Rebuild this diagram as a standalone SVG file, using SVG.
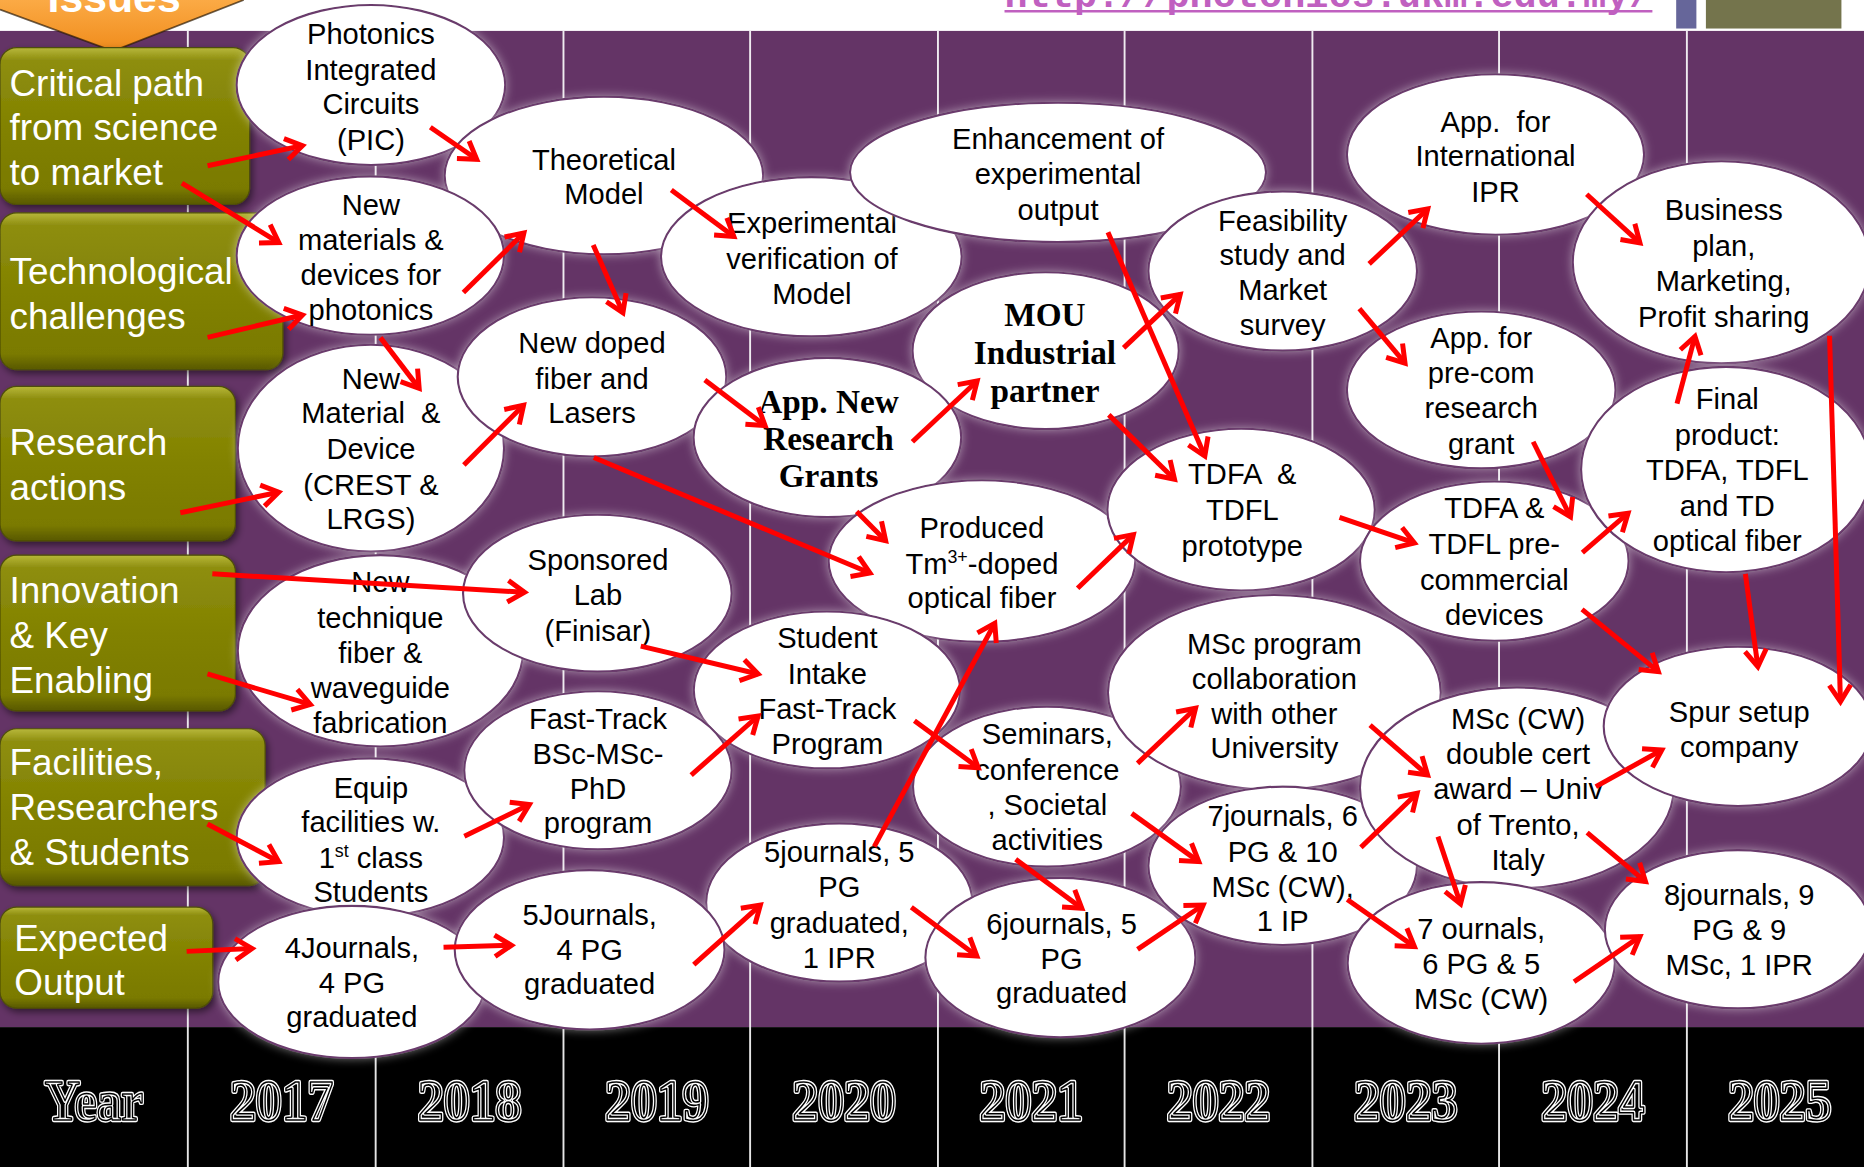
<svg xmlns="http://www.w3.org/2000/svg" width="1864" height="1167" viewBox="0 0 1864 1167">
<defs>
<style>
.nd{fill:#fff;stroke:#6a3a6c;stroke-width:1.8;filter:url(#glow)}
.t{font-family:"Liberation Sans",Arial,sans-serif;font-size:24.5px;fill:#000;text-anchor:middle}
.s{font-family:"Liberation Serif","Times New Roman",serif;font-weight:bold;font-size:28px;fill:#000;text-anchor:middle}
.lb{font-family:"Liberation Sans",Arial,sans-serif;font-size:31px;fill:#fff}
.box{fill:url(#olv);stroke:#4e4e08;stroke-width:1;filter:url(#shd)}
.col{stroke:#fff;stroke-width:1.6;opacity:0.9}
.ar{fill:none;stroke:#ff0000;stroke-width:4.2;marker-end:url(#ah)}
.y1{font-family:"Liberation Serif","Times New Roman",serif;font-weight:bold;font-size:48px;fill:#000;stroke:#fff;stroke-width:3.6;stroke-linejoin:round;text-anchor:middle}
.y2{font-family:"Liberation Serif","Times New Roman",serif;font-weight:bold;font-size:48px;fill:none;stroke:#000;stroke-width:1.3;stroke-linejoin:round;text-anchor:middle}
</style>
<linearGradient id="olv" x1="0" y1="0" x2="0" y2="1">
<stop offset="0" stop-color="#b8b83a"/>
<stop offset="0.08" stop-color="#8e8e10"/>
<stop offset="0.5" stop-color="#828200"/>
<stop offset="0.9" stop-color="#7a7a00"/>
<stop offset="1" stop-color="#585800"/>
</linearGradient>
<linearGradient id="org" x1="0" y1="0" x2="0" y2="1">
<stop offset="0" stop-color="#fbaa45"/>
<stop offset="1" stop-color="#f08c1c"/>
</linearGradient>
<filter id="glow" x="-15%" y="-15%" width="130%" height="130%">
<feGaussianBlur in="SourceAlpha" stdDeviation="4" result="b"/>
<feFlood flood-color="#ffffff" flood-opacity="0.45"/>
<feComposite in2="b" operator="in" result="g"/>
<feMerge><feMergeNode in="g"/><feMergeNode in="SourceGraphic"/></feMerge>
</filter>
<filter id="shd" x="-10%" y="-10%" width="125%" height="130%">
<feDropShadow dx="2" dy="3" stdDeviation="3" flood-color="#000" flood-opacity="0.5"/>
</filter>
<marker id="ah" markerUnits="userSpaceOnUse" viewBox="-16 -11 18 22" refX="0" refY="0" markerWidth="18" markerHeight="22" orient="auto" overflow="visible">
<path d="M-14,-9 L0,0 L-14,9" fill="none" stroke="#ff0000" stroke-width="4.2"/>
</marker>
</defs>
<g transform="scale(1.18878)">
<g id="background">
<rect x="0" y="0" width="1570" height="985" fill="#fff"/>
<rect x="0" y="26" width="1570" height="838" fill="#643466"/>
<rect x="0" y="864" width="1570" height="121" fill="#000"/>
<g>
<line class="col" x1="158" y1="26" x2="158" y2="985"/>
<line class="col" x1="316" y1="26" x2="316" y2="985"/>
<line class="col" x1="474" y1="26" x2="474" y2="985"/>
<line class="col" x1="631" y1="26" x2="631" y2="985"/>
<line class="col" x1="789" y1="26" x2="789" y2="985"/>
<line class="col" x1="946" y1="26" x2="946" y2="985"/>
<line class="col" x1="1104" y1="26" x2="1104" y2="985"/>
<line class="col" x1="1261" y1="26" x2="1261" y2="985"/>
<line class="col" x1="1419" y1="26" x2="1419" y2="985"/>
</g>
<g id="header">
<polygon points="0,0 205,0 95,43 0,8" fill="url(#org)"/>
<polyline points="0,8 95,43 205,0" fill="none" stroke="#2b1a05" stroke-width="1.5" opacity="0.7"/>
<text x="96" y="10" font-family="'Liberation Sans',Arial,sans-serif" font-weight="bold" font-size="36" fill="#fff" text-anchor="middle">Issues</text>
<text x="845" y="6" font-family="'Liberation Mono','Courier New',monospace" font-weight="bold" font-size="32" fill="#c060c0" textLength="545" lengthAdjust="spacingAndGlyphs">http://photonics.ukm.edu.my/</text>
<line x1="845" y1="9.5" x2="1390" y2="9.5" stroke="#c060c0" stroke-width="2"/>
<rect x="1410" y="0" width="17" height="24" fill="#66669a"/>
<rect x="1435" y="0" width="114" height="24" fill="#74744c"/>
</g>
</g>
<g id="row-labels">
<g id="lbl-critical"><rect class="box" x="0" y="40" width="210" height="132" rx="14"/>
<text class="lb"><tspan x="8" y="81">Critical path</tspan><tspan x="8" y="118">from science</tspan><tspan x="8" y="156">to market</tspan></text></g>
<g id="lbl-tech"><rect class="box" x="0" y="179" width="238" height="132" rx="14"/>
<text class="lb"><tspan x="8" y="239">Technological</tspan><tspan x="8" y="277">challenges</tspan></text></g>
<g id="lbl-research"><rect class="box" x="0" y="325" width="198" height="130" rx="14"/>
<text class="lb"><tspan x="8" y="383">Research</tspan><tspan x="8" y="421">actions</tspan></text></g>
<g id="lbl-innovation"><rect class="box" x="0" y="467" width="198" height="131" rx="14"/>
<text class="lb"><tspan x="8" y="507">Innovation</tspan><tspan x="8" y="545">&amp; Key</tspan><tspan x="8" y="583">Enabling</tspan></text></g>
<g id="lbl-facilities"><rect class="box" x="0" y="613" width="223" height="132" rx="14"/>
<text class="lb"><tspan x="8" y="652">Facilities,</tspan><tspan x="8" y="690">Researchers</tspan><tspan x="8" y="728">&amp; Students</tspan></text></g>
<g id="lbl-expected"><rect class="box" x="0" y="763" width="179" height="85" rx="14"/>
<text class="lb"><tspan x="12" y="800">Expected</tspan><tspan x="12" y="837">Output</tspan></text></g>
</g>
<g id="nodes">
<g id="n-pic"><ellipse class="nd" cx="312" cy="71.5" rx="113" ry="67.3"/>
<text class="t"><tspan x="312" y="37">Photonics</tspan><tspan x="312" y="67">Integrated</tspan><tspan x="312" y="96">Circuits</tspan><tspan x="312" y="126">(PIC)</tspan></text></g>
<g id="n-theory"><ellipse class="nd" cx="508" cy="147.6" rx="134" ry="66.3"/>
<text class="t"><tspan x="508" y="143">Theoretical</tspan><tspan x="508" y="172">Model</tspan></text></g>
<g id="n-newmat"><ellipse class="nd" cx="311.5" cy="215" rx="112.5" ry="66.6"/>
<text class="t"><tspan x="312" y="181">New</tspan><tspan x="312" y="210.5">materials &amp;</tspan><tspan x="312" y="240">devices for</tspan><tspan x="312" y="269.5">photonics</tspan></text></g>
<g id="n-crest"><ellipse class="nd" cx="312" cy="377" rx="112" ry="87"/>
<text class="t" xml:space="preserve"><tspan x="312" y="327">New</tspan><tspan x="312" y="356">Material  &amp;</tspan><tspan x="312" y="386">Device</tspan><tspan x="312" y="416">(CREST &amp;</tspan><tspan x="312" y="445">LRGS)</tspan></text></g>
<g id="n-doped"><ellipse class="nd" cx="498" cy="317" rx="113" ry="67"/>
<text class="t"><tspan x="498" y="297">New doped</tspan><tspan x="498" y="327">fiber and</tspan><tspan x="498" y="356">Lasers</tspan></text></g>
<g id="n-exper"><ellipse class="nd" cx="682.5" cy="216" rx="126.5" ry="67"/>
<text class="t"><tspan x="683" y="196">Experimental</tspan><tspan x="683" y="226">verification of</tspan><tspan x="683" y="256">Model</tspan></text></g>
<g id="n-enhance"><ellipse class="nd" cx="890" cy="145" rx="175" ry="58.6"/>
<text class="t"><tspan x="890" y="125">Enhancement of</tspan><tspan x="890" y="155">experimental</tspan><tspan x="890" y="185">output</tspan></text></g>
<g id="n-feas"><ellipse class="nd" cx="1079" cy="228" rx="113" ry="67"/>
<text class="t"><tspan x="1079" y="194">Feasibility</tspan><tspan x="1079" y="223">study and</tspan><tspan x="1079" y="252">Market</tspan><tspan x="1079" y="282">survey</tspan></text></g>
<g id="n-ipr"><ellipse class="nd" cx="1258" cy="130" rx="125" ry="67.5"/>
<text class="t" xml:space="preserve"><tspan x="1258" y="111">App.  for</tspan><tspan x="1258" y="140">International</tspan><tspan x="1258" y="170">IPR</tspan></text></g>
<g id="n-mou"><ellipse class="nd" cx="879.6" cy="295" rx="112" ry="66"/>
<text class="s"><tspan x="879" y="274">MOU</tspan><tspan x="879" y="306">Industrial</tspan><tspan x="879" y="338">partner</tspan></text></g>
<g id="n-appnew"><ellipse class="nd" cx="696" cy="368" rx="112.6" ry="67"/>
<text class="s"><tspan x="697" y="347">App. New</tspan><tspan x="697" y="378.5">Research</tspan><tspan x="697" y="410">Grants</tspan></text></g>
<g id="n-business"><ellipse class="nd" cx="1448" cy="220.6" rx="125" ry="85"/>
<text class="t"><tspan x="1450" y="185">Business</tspan><tspan x="1450" y="215">plan,</tspan><tspan x="1450" y="245">Marketing,</tspan><tspan x="1450" y="275">Profit sharing</tspan></text></g>
<g id="n-precom"><ellipse class="nd" cx="1246" cy="328" rx="113" ry="66"/>
<text class="t"><tspan x="1246" y="293">App. for</tspan><tspan x="1246" y="322.5">pre-com</tspan><tspan x="1246" y="352">research</tspan><tspan x="1246" y="381.5">grant</tspan></text></g>
<g id="n-produced"><ellipse class="nd" cx="826" cy="472" rx="129" ry="68"/>
<text class="t"><tspan x="826" y="452.5">Produced</tspan><tspan x="826" y="482.5">Tm<tspan dy="-9" font-size="15">3+</tspan><tspan dy="9">-doped</tspan></tspan><tspan x="826" y="511.5">optical fiber</tspan></text></g>
<g id="n-proto"><ellipse class="nd" cx="1044" cy="428.7" rx="112.5" ry="68"/>
<text class="t" xml:space="preserve"><tspan x="1045" y="407.5">TDFA  &amp;</tspan><tspan x="1045" y="437.5">TDFL</tspan><tspan x="1045" y="467.5">prototype</tspan></text></g>
<g id="n-precomdev"><ellipse class="nd" cx="1257" cy="472" rx="113" ry="67"/>
<text class="t"><tspan x="1257" y="436">TDFA &amp;</tspan><tspan x="1257" y="466">TDFL pre-</tspan><tspan x="1257" y="496">commercial</tspan><tspan x="1257" y="526">devices</tspan></text></g>
<g id="n-final"><ellipse class="nd" cx="1452" cy="395" rx="122" ry="86.4"/>
<text class="t"><tspan x="1453" y="344">Final</tspan><tspan x="1453" y="374">product:</tspan><tspan x="1453" y="404">TDFA, TDFL</tspan><tspan x="1453" y="434">and TD</tspan><tspan x="1453" y="463.5">optical fiber</tspan></text></g>
<g id="n-technique"><ellipse class="nd" cx="320" cy="547.5" rx="120" ry="80.5"/>
<text class="t"><tspan x="320" y="498">New</tspan><tspan x="320" y="528">technique</tspan><tspan x="320" y="557.5">fiber &amp;</tspan><tspan x="320" y="587.5">waveguide</tspan><tspan x="320" y="617">fabrication</tspan></text></g>
<g id="n-sponsored"><ellipse class="nd" cx="502.5" cy="499" rx="113" ry="66"/>
<text class="t"><tspan x="503" y="479.5">Sponsored</tspan><tspan x="503" y="509">Lab</tspan><tspan x="503" y="539">(Finisar)</tspan></text></g>
<g id="n-student"><ellipse class="nd" cx="695.6" cy="580.4" rx="112" ry="66"/>
<text class="t"><tspan x="696" y="545.5">Student</tspan><tspan x="696" y="575">Intake</tspan><tspan x="696" y="604.5">Fast-Track</tspan><tspan x="696" y="634.5">Program</tspan></text></g>
<g id="n-equip"><ellipse class="nd" cx="311.5" cy="704.5" rx="112.5" ry="66.5"/>
<text class="t"><tspan x="312" y="671">Equip</tspan><tspan x="312" y="700">facilities w.</tspan><tspan x="312" y="730">1<tspan dy="-9" font-size="15">st</tspan><tspan dy="9"> class</tspan></tspan><tspan x="312" y="759">Students</tspan></text></g>
<g id="n-fasttrack"><ellipse class="nd" cx="503" cy="648" rx="112.5" ry="66.5"/>
<text class="t"><tspan x="503" y="613">Fast-Track</tspan><tspan x="503" y="642.5">BSc-MSc-</tspan><tspan x="503" y="672">PhD</tspan><tspan x="503" y="701">program</tspan></text></g>
<g id="n-seminars"><ellipse class="nd" cx="880.7" cy="661.7" rx="112.7" ry="67.3"/>
<text class="t"><tspan x="881" y="625.5">Seminars,</tspan><tspan x="881" y="656">conference</tspan><tspan x="881" y="685.5">, Societal</tspan><tspan x="881" y="715">activities</tspan></text></g>
<g id="n-msccollab"><ellipse class="nd" cx="1072" cy="582.5" rx="140" ry="82"/>
<text class="t"><tspan x="1072" y="550">MSc program</tspan><tspan x="1072" y="579.5">collaboration</tspan><tspan x="1072" y="609">with other</tspan><tspan x="1072" y="638">University</tspan></text></g>
<g id="n-5j2020"><ellipse class="nd" cx="706" cy="759.2" rx="112" ry="66.6"/>
<text class="t"><tspan x="706" y="725">5journals, 5</tspan><tspan x="706" y="754.5">PG</tspan><tspan x="706" y="784.5">graduated,</tspan><tspan x="706" y="814">1 IPR</tspan></text></g>
<g id="n-4j"><ellipse class="nd" cx="296" cy="826" rx="112.5" ry="64"/>
<text class="t"><tspan x="296" y="805.5">4Journals,</tspan><tspan x="296" y="835">4 PG</tspan><tspan x="296" y="864">graduated</tspan></text></g>
<g id="n-5j2018"><ellipse class="nd" cx="496" cy="799" rx="113.5" ry="67"/>
<text class="t"><tspan x="496" y="778">5Journals,</tspan><tspan x="496" y="807.5">4 PG</tspan><tspan x="496" y="836.5">graduated</tspan></text></g>
<g id="n-6j"><ellipse class="nd" cx="892" cy="805.5" rx="113.6" ry="67"/>
<text class="t"><tspan x="893" y="785.5">6journals, 5</tspan><tspan x="893" y="815">PG</tspan><tspan x="893" y="844">graduated</tspan></text></g>
<g id="n-7j"><ellipse class="nd" cx="1079" cy="728.3" rx="113" ry="66.6"/>
<text class="t"><tspan x="1079" y="695">7journals, 6</tspan><tspan x="1079" y="725">PG &amp; 10</tspan><tspan x="1079" y="754.5">MSc (CW),</tspan><tspan x="1079" y="783.5">1 IP</tspan></text></g>
<g id="n-msccw"><ellipse class="nd" cx="1276" cy="662.7" rx="132" ry="84.5"/>
<text class="t"><tspan x="1277" y="613">MSc (CW)</tspan><tspan x="1277" y="642.5">double cert</tspan><tspan x="1277" y="672.5">award – Univ</tspan><tspan x="1277" y="702">of Trento,</tspan><tspan x="1277" y="732">Italy</tspan></text></g>
<g id="n-spur"><ellipse class="nd" cx="1462" cy="611" rx="113" ry="67"/>
<text class="t"><tspan x="1463" y="607.5">Spur setup</tspan><tspan x="1463" y="637">company</tspan></text></g>
<g id="n-7o"><ellipse class="nd" cx="1246" cy="810" rx="112.4" ry="68"/>
<text class="t"><tspan x="1246" y="789.5">7 ournals,</tspan><tspan x="1246" y="819">6 PG &amp; 5</tspan><tspan x="1246" y="849">MSc (CW)</tspan></text></g>
<g id="n-8j"><ellipse class="nd" cx="1462" cy="781.7" rx="112" ry="66.6"/>
<text class="t"><tspan x="1463" y="761.5">8journals, 9</tspan><tspan x="1463" y="791">PG &amp; 9</tspan><tspan x="1463" y="820.5">MSc, 1 IPR</tspan></text></g>
</g>
<g id="connectors">
<path class="ar" d="M174.6,139.4 L254.4,122.5"/>
<path class="ar" d="M153,154 L234.5,204"/>
<path class="ar" d="M362,107 L401,134"/>
<path class="ar" d="M174.6,283.8 L254.4,265"/>
<path class="ar" d="M389.8,246 L440.7,196"/>
<path class="ar" d="M320,284 L352.6,326.7"/>
<path class="ar" d="M499,206 L524,263"/>
<path class="ar" d="M564.7,159.8 L617.3,198.9"/>
<path class="ar" d="M151.7,431.3 L234.4,414.1"/>
<path class="ar" d="M390.2,391.1 L440.4,340.9"/>
<path class="ar" d="M592.9,319.7 L643.6,358.1"/>
<path class="ar" d="M499.5,384.9 L731.8,482"/>
<path class="ar" d="M767.5,371.6 L822,320.5"/>
<path class="ar" d="M720.6,430.2 L745,454.8"/>
<path class="ar" d="M945.2,292.6 L992.8,247.6"/>
<path class="ar" d="M932.7,349 L988,403.2"/>
<path class="ar" d="M932,195.3 L1013.5,383.6"/>
<path class="ar" d="M1151.7,222 L1201,175.7"/>
<path class="ar" d="M1143.5,259.6 L1181.9,305.5"/>
<path class="ar" d="M1334.7,163.4 L1379.5,204.3"/>
<path class="ar" d="M1289.7,371.6 L1321.1,434.7"/>
<path class="ar" d="M906.5,494.8 L953.4,449.7"/>
<path class="ar" d="M1126.8,435.3 L1189.8,456.7"/>
<path class="ar" d="M1331.1,464.8 L1369.5,431.7"/>
<path class="ar" d="M1410.7,339.5 L1425.8,283"/>
<path class="ar" d="M1468.2,482.8 L1478.7,560.8"/>
<path class="ar" d="M1539,282.4 L1548.2,590.2"/>
<path class="ar" d="M1330.8,512.6 L1395,565"/>
<path class="ar" d="M178.6,482.7 L441.2,498.2"/>
<path class="ar" d="M174.5,566.9 L261,592.6"/>
<path class="ar" d="M539,543.5 L637.7,567"/>
<path class="ar" d="M581.4,652 L637.7,602.3"/>
<path class="ar" d="M769.2,606.2 L822.9,645.8"/>
<path class="ar" d="M735.4,712.2 L836.8,524.3"/>
<path class="ar" d="M174.5,693.2 L234.4,724.8"/>
<path class="ar" d="M390.6,703.5 L445.3,676.7"/>
<path class="ar" d="M956.9,642.1 L1005.7,595.8"/>
<path class="ar" d="M952,684.2 L1008.4,724.8"/>
<path class="ar" d="M854.4,722.9 L910,764.1"/>
<path class="ar" d="M1152.5,609.9 L1200.9,652"/>
<path class="ar" d="M1144.8,712.8 L1192.1,667.3"/>
<path class="ar" d="M1342.4,661.7 L1397.9,630.9"/>
<path class="ar" d="M1209.6,703.8 L1228.6,760.4"/>
<path class="ar" d="M1335.1,700.4 L1384.2,741.6"/>
<path class="ar" d="M157,800.3 L212,797.9"/>
<path class="ar" d="M373.1,796.9 L430.2,795.2"/>
<path class="ar" d="M583.6,811.5 L639.6,761.3"/>
<path class="ar" d="M766.6,763.2 L821.7,804.2"/>
<path class="ar" d="M956.9,798.6 L1012.1,761.3"/>
<path class="ar" d="M1133.3,756.7 L1189.8,796.3"/>
<path class="ar" d="M1324.1,825.8 L1379.5,787.9"/>
</g>
<g id="years">
<text class="y1" x="79" y="942" textLength="83" lengthAdjust="spacingAndGlyphs">Year</text>
<text class="y1" x="237" y="942" textLength="87" lengthAdjust="spacingAndGlyphs">2017</text>
<text class="y1" x="395" y="942" textLength="87" lengthAdjust="spacingAndGlyphs">2018</text>
<text class="y1" x="552.5" y="942" textLength="87" lengthAdjust="spacingAndGlyphs">2019</text>
<text class="y1" x="710" y="942" textLength="87" lengthAdjust="spacingAndGlyphs">2020</text>
<text class="y1" x="867.5" y="942" textLength="87" lengthAdjust="spacingAndGlyphs">2021</text>
<text class="y1" x="1025" y="942" textLength="87" lengthAdjust="spacingAndGlyphs">2022</text>
<text class="y1" x="1182.5" y="942" textLength="87" lengthAdjust="spacingAndGlyphs">2023</text>
<text class="y1" x="1340" y="942" textLength="87" lengthAdjust="spacingAndGlyphs">2024</text>
<text class="y1" x="1497" y="942" textLength="87" lengthAdjust="spacingAndGlyphs">2025</text>
<text class="y2" x="79" y="942" textLength="83" lengthAdjust="spacingAndGlyphs">Year</text>
<text class="y2" x="237" y="942" textLength="87" lengthAdjust="spacingAndGlyphs">2017</text>
<text class="y2" x="395" y="942" textLength="87" lengthAdjust="spacingAndGlyphs">2018</text>
<text class="y2" x="552.5" y="942" textLength="87" lengthAdjust="spacingAndGlyphs">2019</text>
<text class="y2" x="710" y="942" textLength="87" lengthAdjust="spacingAndGlyphs">2020</text>
<text class="y2" x="867.5" y="942" textLength="87" lengthAdjust="spacingAndGlyphs">2021</text>
<text class="y2" x="1025" y="942" textLength="87" lengthAdjust="spacingAndGlyphs">2022</text>
<text class="y2" x="1182.5" y="942" textLength="87" lengthAdjust="spacingAndGlyphs">2023</text>
<text class="y2" x="1340" y="942" textLength="87" lengthAdjust="spacingAndGlyphs">2024</text>
<text class="y2" x="1497" y="942" textLength="87" lengthAdjust="spacingAndGlyphs">2025</text>
</g>
</g>
</svg>
